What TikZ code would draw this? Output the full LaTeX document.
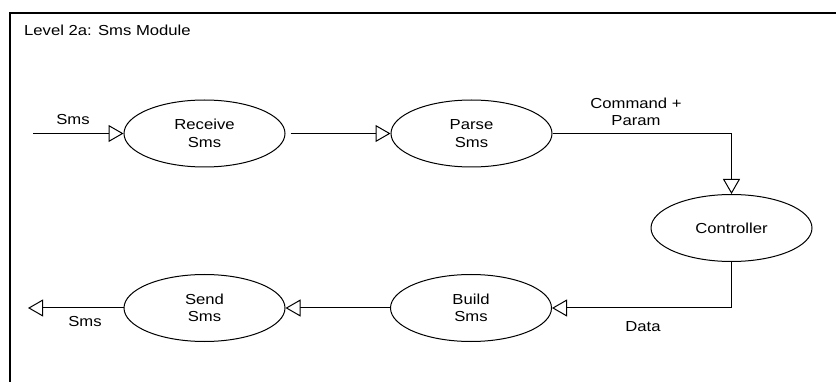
\documentclass[tikz,border=0pt]{standalone}
\usepackage{fontspec}
\setmainfont{Liberation Sans}[FakeStretch=1.15]
\usetikzlibrary{shapes.geometric,arrows.meta}
\begin{document}
\begin{tikzpicture}[x=1pt,y=-1pt,
  proc/.style={draw=black,line width=1pt,ellipse,minimum width=161pt,minimum height=67pt,inner sep=0pt,align=center,font=\fontsize{14.5}{17.5}\selectfont},
  flow/.style={draw=black,line width=1pt,-{Triangle[open,length=15pt,width=17pt,fill=white]}},
  lbl/.style={inner sep=0pt,align=center,font=\fontsize{14.5}{17.5}\selectfont}]
\useasboundingbox (0,0) rectangle (836,382);
% frame
\draw[line width=1.4pt] (10,382) -- (10,13) -- (836,13);
\node[lbl,anchor=west] (title) at (24,30) {Level 2a: Sms Module};
% processes
\node[proc] (recv) at (204.5,133.5) {Receive\\Sms};
\node[proc] (parse) at (471.5,133.5) {Parse\\Sms};
\node[proc] (ctrl) at (731.5,228) {Controller};
\node[proc] (build) at (471,308) {Build\\Sms};
\node[proc] (send) at (204.5,308) {Send\\Sms};
% free ends
\coordinate (inS) at (33,133.5);
\coordinate (outS) at (28,308);
% connectors
\draw[flow] (inS) -- (recv.west);
\draw[flow,shorten <=5pt] (recv.east) -- (parse.west);
\draw[flow] (parse.east) -| (ctrl.north);
\draw[flow] (ctrl.south) |- (build.east);
\draw[flow] (build.west) -- (send.east);
\draw[flow] (send.west) -- (outS);
% labels
\node[lbl] (lin) at (73,120) {Sms};
\node[lbl] (lcmd) at (636,112) {Command +\\Param};
\node[lbl] (ldata) at (643,327) {Data};
\node[lbl] (lout) at (85,322) {Sms};
\end{tikzpicture}
\end{document}
